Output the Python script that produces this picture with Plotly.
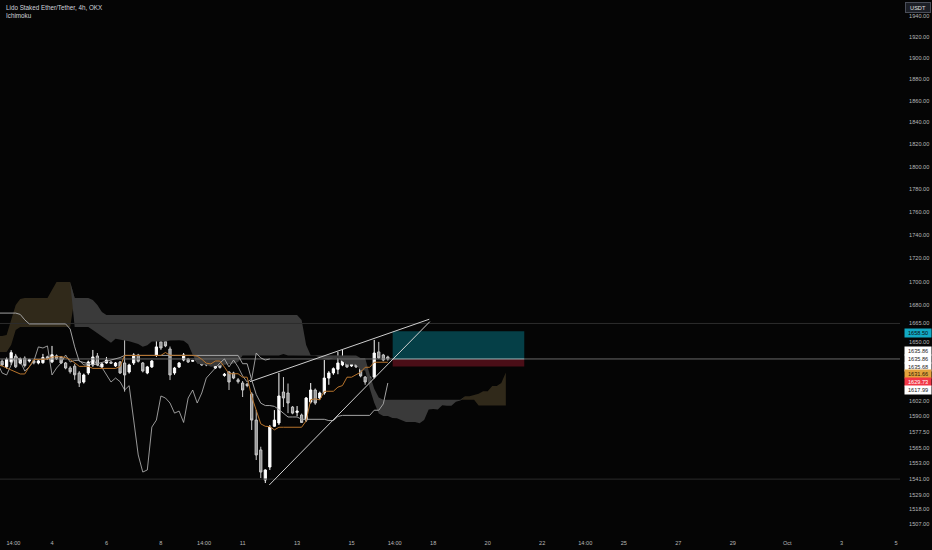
import pandas as pd
import numpy as np
import plotly.graph_objects as go

# ---------------- data ----------------
bar_start = "2023-09-02 00:00"   # first 4h bar

opens = [1629.0, 1634.0, 1629.5, 1633.5, 1638.0, 1632.5, 1636.5, 1634.2, 1634.3, 1632.6,
         1632.8, 1637.6, 1633.5, 1638.4, 1637.5, 1632.6, 1628.5, 1630.0, 1624.5, 1617.2,
         1624.5, 1631.0, 1638.3, 1629.4, 1632.6, 1633.4, 1630.2, 1633.4, 1632.6, 1625.3,
         1632.6, 1639.0, 1632.6, 1624.5, 1629.4, 1639.0, 1649.8, 1650.0, 1644.0, 1624.5,
         1629.4, 1635.0, 1635.9, 1634.0, 1634.2, 1635.0, 1634.2, 1635.5, 1628.5, 1631.0,
         1622.5, 1625.3, 1624.5, 1619.0, 1616.4, 1615.5, 1607.6, 1586.9, 1563.5, 1540.3,
         1550.3, 1582.0, 1584.6, 1609.2, 1608.4, 1597.2, 1593.0, 1590.9, 1586.9, 1601.2,
         1610.8, 1604.4, 1608.4, 1620.4, 1624.5, 1627.5, 1631.0, 1634.2, 1630.2, 1633.4,
         1628.5, 1621.2, 1621.2, 1621.2, 1641.6, 1639.1, 1637.5]
highs = [1635.0, 1635.5, 1637.0, 1643.0, 1640.0, 1637.0, 1638.0, 1636.0, 1635.0, 1635.2,
         1640.0, 1638.5, 1646.5, 1639.5, 1638.3, 1633.4, 1630.0, 1632.0, 1626.0, 1624.0,
         1634.5, 1643.2, 1640.7, 1632.6, 1637.5, 1634.0, 1633.4, 1634.2, 1668.0, 1632.0,
         1640.5, 1640.0, 1633.4, 1630.2, 1635.0, 1658.8, 1657.5, 1652.5, 1646.0, 1629.4,
         1633.4, 1640.7, 1636.7, 1635.2, 1635.2, 1635.9, 1635.0, 1637.0, 1631.8, 1632.0,
         1624.5, 1626.0, 1625.5, 1620.4, 1618.0, 1616.4, 1609.0, 1594.8, 1566.0, 1548.5,
         1583.0, 1594.8, 1624.5, 1621.2, 1616.0, 1598.0, 1598.0, 1592.0, 1605.2, 1616.4,
         1612.0, 1609.5, 1635.0, 1626.0, 1629.0, 1641.6, 1643.2, 1635.9, 1636.0, 1634.5,
         1629.4, 1622.0, 1622.0, 1651.4, 1649.8, 1640.0, 1638.5]
lows = [1628.0, 1630.0, 1628.0, 1631.0, 1628.5, 1631.5, 1629.0, 1633.0, 1631.5, 1631.5,
        1632.0, 1635.0, 1632.5, 1635.0, 1631.8, 1627.5, 1624.0, 1619.0, 1613.2, 1616.0,
        1623.0, 1629.5, 1630.0, 1628.5, 1632.0, 1631.8, 1629.4, 1623.7, 1609.5, 1624.0,
        1631.0, 1633.0, 1625.0, 1623.5, 1628.5, 1637.5, 1643.2, 1645.5, 1618.8, 1623.0,
        1628.5, 1634.0, 1632.6, 1633.5, 1633.8, 1630.2, 1630.0, 1635.0, 1627.7, 1628.0,
        1621.5, 1610.8, 1619.5, 1616.0, 1605.2, 1613.0, 1579.1, 1555.7, 1541.8, 1538.0,
        1548.0, 1581.5, 1583.0, 1597.2, 1592.4, 1591.5, 1590.0, 1584.6, 1585.5, 1600.0,
        1599.0, 1603.0, 1607.0, 1615.0, 1623.0, 1623.5, 1630.0, 1628.5, 1629.4, 1628.5,
        1621.0, 1615.0, 1617.0, 1620.0, 1636.0, 1634.0, 1634.5]
closes = [1634.0, 1631.0, 1635.5, 1641.0, 1629.5, 1636.0, 1630.5, 1635.2, 1632.7, 1634.3,
          1637.0, 1636.0, 1639.3, 1636.0, 1632.6, 1628.5, 1625.5, 1623.0, 1616.4, 1622.9,
          1633.4, 1637.5, 1631.0, 1631.8, 1635.0, 1632.4, 1632.6, 1624.5, 1622.9, 1631.0,
          1639.1, 1634.0, 1626.1, 1629.4, 1634.2, 1645.7, 1644.8, 1646.5, 1622.9, 1628.5,
          1632.6, 1639.1, 1633.4, 1634.6, 1634.8, 1631.0, 1631.0, 1636.2, 1631.0, 1629.0,
          1623.5, 1617.2, 1620.4, 1617.5, 1610.8, 1614.3, 1586.9, 1559.6, 1546.4, 1548.0,
          1581.4, 1586.9, 1606.0, 1604.4, 1600.4, 1592.4, 1594.0, 1585.0, 1604.4, 1610.8,
          1600.4, 1608.4, 1620.4, 1624.5, 1628.0, 1632.6, 1635.9, 1629.4, 1635.0, 1629.4,
          1622.1, 1617.2, 1619.6, 1640.7, 1636.7, 1635.0, 1635.86]

# Ichimoku values whose look-back starts before the visible bars
tenkan_early = [1631.0, 1630.2, 1628.5, 1626.9, 1625.3, 1623.7, 1623.7, 1629.4]
kijun_early = [1673.6, 1673.6, 1673.6, 1673.6, 1673.6, 1672.5, 1668.0, 1664.6, 1664.6, 1664.6,
               1664.6, 1664.6, 1664.6, 1664.6, 1664.6, 1664.6, 1660.4, 1645.7, 1634.0, 1633.2,
               1632.4, 1631.0, 1632.0, 1633.0, 1634.0, 1635.0, 1636.0, 1637.0]
span_a_early = [1654.7, 1654.7, 1655.5, 1667.9, 1680.4, 1685.4, 1686.2, 1686.2, 1686.2, 1686.2,
                1686.2, 1686.2, 1692.9, 1699.7, 1699.7, 1699.7, 1699.7, 1662.1, 1662.1, 1662.1,
                1662.1, 1659.6, 1657.1, 1653.9, 1651.4, 1649.0]
span_b_early = [1641.6, 1641.6, 1641.6, 1647.3, 1659.6, 1662.1, 1662.1, 1662.1, 1662.1, 1662.1,
                1662.1, 1662.1, 1662.1, 1662.1, 1662.1, 1662.1, 1662.1, 1686.2, 1686.2, 1686.2,
                1686.2, 1684.6, 1680.4, 1674.5, 1672.0, 1672.0, 1672.0, 1672.0, 1672.0, 1672.0,
                1672.0, 1672.0, 1672.0, 1672.0, 1672.0, 1672.0, 1672.0, 1672.0, 1672.0, 1672.0,
                1672.0, 1672.0, 1672.0, 1672.0, 1672.0, 1672.0, 1672.0, 1672.0, 1672.0, 1672.0,
                1672.0, 1672.0, 1672.0, 1672.0, 1672.0, 1672.0, 1672.0, 1672.0, 1672.0, 1672.0,
                1672.0, 1672.0, 1672.0, 1672.0, 1672.0, 1672.0, 1672.0, 1667.9, 1647.3, 1638.8,
                1638.8, 1638.8, 1638.8, 1638.8, 1638.8, 1638.8, 1638.8]

levels_dark = [1665.0, 1541.0]
last_price = 1635.86

trend_upper_t = ["2023-09-11 06:30", "2023-09-17 20:30"]
trend_upper_p = [1617.5, 1668.5]
trend_lower_t = ["2023-09-11 23:30", "2023-09-17 21:00"]
trend_lower_p = [1536.5, 1666.5]

pos_t = ["2023-09-16 12:15", "2023-09-21 08:15"]
pos_entry, pos_target, pos_stop = 1635.86, 1658.50, 1629.73

y_ticks = [1940, 1920, 1900, 1880, 1860, 1840, 1820, 1800, 1780, 1760, 1740, 1720, 1700,
           1680, 1665, 1650, 1602, 1590, 1577.5, 1565, 1553, 1541, 1529, 1518, 1507]
x_tick_dates = ["2023-09-02 14:00", "2023-09-04", "2023-09-06", "2023-09-08", "2023-09-09 14:00",
                "2023-09-11", "2023-09-13", "2023-09-15", "2023-09-16 14:00", "2023-09-18",
                "2023-09-20", "2023-09-22", "2023-09-23 14:00", "2023-09-25", "2023-09-27",
                "2023-09-29", "2023-10-01", "2023-10-03", "2023-10-05"]
x_tick_text = ["14:00", "4", "6", "8", "14:00", "11", "13", "15", "14:00", "18", "20", "22",
               "14:00", "25", "27", "29", "Oct", "3", "5"]

# right-axis price tags (text, background, text colour, stacked pixel row)
tags = [("1658.50", "#12a9c4", "#0b0b0b", 332.7),
        ("1635.86", "#ffffff", "#222222", 351.0),
        ("1635.86", "#ffffff", "#222222", 359.0),
        ("1635.68", "#ffffff", "#222222", 366.7),
        ("1631.66", "#e3a23c", "#2a1c05", 374.4),
        ("1629.73", "#f23645", "#ffffff", 382.1),
        ("1617.99", "#ffffff", "#222222", 389.8)]

# ---------------- derived ichimoku ----------------
n = len(closes)
times = pd.date_range(bar_start, periods=n + 26, freq="4h")
H = pd.Series(highs)
L = pd.Series(lows)
tenkan = ((H.rolling(9).max() + L.rolling(9).min()) / 2).tolist()
tenkan[:len(tenkan_early)] = tenkan_early
kijun = ((H.rolling(26).max() + L.rolling(26).min()) / 2).tolist()
kijun[:len(kijun_early)] = kijun_early
span_b_calc = ((H.rolling(52).max() + L.rolling(52).min()) / 2).tolist()
span_a = np.array(span_a_early + [(t + k) / 2 for t, k in zip(tenkan, kijun)])
span_b = np.array(span_b_early + span_b_calc[len(span_b_early) - 26:])
cloud_top = np.maximum(span_a, span_b)

x_range = ["2023-09-02 02:10", "2023-10-05 03:24"]
BG = "#050505"
FONT = "Liberation Sans"

fig = go.Figure()

# cloud: olive where A above B, grey where B above A
fig.add_trace(go.Scatter(x=times, y=span_b, mode="lines", line=dict(width=0), hoverinfo="skip"))
fig.add_trace(go.Scatter(x=times, y=cloud_top, mode="lines", line=dict(width=0),
                         fill="tonexty", fillcolor="#30291a", hoverinfo="skip"))
fig.add_trace(go.Scatter(x=times, y=span_a, mode="lines", line=dict(width=0), hoverinfo="skip"))
fig.add_trace(go.Scatter(x=times, y=cloud_top, mode="lines", line=dict(width=0),
                         fill="tonexty", fillcolor="#3a3a3a", hoverinfo="skip"))

# horizontal levels
for lv in levels_dark:
    fig.add_trace(go.Scatter(x=x_range, y=[lv, lv], mode="lines",
                             line=dict(color="#2c2c2c", width=1), hoverinfo="skip"))
fig.add_trace(go.Scatter(x=x_range, y=[last_price, last_price], mode="lines",
                         line=dict(color="#6a6a6a", width=1), hoverinfo="skip"))

# long position box
fig.add_trace(go.Scatter(x=[pos_t[0], pos_t[1], pos_t[1], pos_t[0], pos_t[0]],
                         y=[pos_entry, pos_entry, pos_target, pos_target, pos_entry],
                         mode="lines", line=dict(width=0), fill="toself",
                         fillcolor="#053f47", hoverinfo="skip"))
fig.add_trace(go.Scatter(x=[pos_t[0], pos_t[1], pos_t[1], pos_t[0], pos_t[0]],
                         y=[pos_stop, pos_stop, pos_entry, pos_entry, pos_stop],
                         mode="lines", line=dict(width=0), fill="toself",
                         fillcolor="#4a0e17", hoverinfo="skip"))
fig.add_trace(go.Scatter(x=pos_t, y=[pos_entry, pos_entry], mode="lines",
                         line=dict(color="#9fb7b9", width=1), hoverinfo="skip"))

# lagging span, base line, conversion line
fig.add_trace(go.Scatter(x=times[:n - 26], y=closes[26:], mode="lines",
                         line=dict(color="#bdbdbd", width=0.8), hoverinfo="skip"))
fig.add_trace(go.Scatter(x=times[:n], y=kijun, mode="lines",
                         line=dict(color="#a3a3a3", width=1), hoverinfo="skip"))
fig.add_trace(go.Scatter(x=times[:n], y=tenkan, mode="lines",
                         line=dict(color="#b8742c", width=1), hoverinfo="skip"))

# candles
fig.add_trace(go.Candlestick(x=times[:n], open=opens, high=highs, low=lows, close=closes,
                             increasing=dict(line=dict(color="#ffffff", width=1), fillcolor="#ffffff"),
                             decreasing=dict(line=dict(color="#c9c9c9", width=1), fillcolor="#8e8e8e"),
                             whiskerwidth=0, hoverinfo="skip"))

# trend lines
fig.add_trace(go.Scatter(x=trend_upper_t, y=trend_upper_p, mode="lines",
                         line=dict(color="#cfcfcf", width=1), hoverinfo="skip"))
fig.add_trace(go.Scatter(x=trend_lower_t, y=trend_lower_p, mode="lines",
                         line=dict(color="#cfcfcf", width=1), hoverinfo="skip"))

annotations = [
    dict(text="Lido Staked Ether/Tether, 4h, OKX", xref="paper", yref="paper",
         x=4 / 900, y=1 - 7.3 / 532, xanchor="left", yanchor="middle", showarrow=False,
         font=dict(family=FONT, size=6.3, color="#d1d4dc")),
    dict(text="Ichimoku", xref="paper", yref="paper",
         x=4 / 900, y=1 - 15.5 / 532, xanchor="left", yanchor="middle", showarrow=False,
         font=dict(family=FONT, size=6.3, color="#d1d4dc")),
    dict(text="USDT", xref="paper", yref="paper", x=1, xshift=5, y=1 - 7.6 / 532,
         xanchor="left", yanchor="middle", showarrow=False, width=22, height=7,
         bgcolor="#1c1f26", bordercolor="#4a4e59", borderwidth=1, borderpad=1,
         font=dict(family=FONT, size=5.6, color="#e0e0e0")),
]
for txt, bg, fg, ypx in tags:
    annotations.append(dict(text=txt, xref="paper", yref="paper", x=1, xshift=3.5,
                            y=1 - ypx / 532, xanchor="left", yanchor="middle", showarrow=False,
                            width=25, height=6.5, bgcolor=bg, borderpad=0.6,
                            font=dict(family=FONT, size=5.6, color=fg)))

fig.update_layout(
    width=932, height=550,
    margin=dict(l=0, r=32, t=0, b=18),
    paper_bgcolor=BG, plot_bgcolor=BG,
    showlegend=False,
    annotations=annotations,
    xaxis=dict(type="date", range=x_range, rangeslider=dict(visible=False),
               tickvals=x_tick_dates, ticktext=x_tick_text,
               showgrid=False, zeroline=False, showline=False,
               ticks="outside", ticklen=5, tickcolor=BG,
               tickfont=dict(family=FONT, size=5.6, color="#b8b8b8")),
    yaxis=dict(type="log", range=[3.176378, 3.291266], side="right",
               tickvals=y_ticks, ticktext=[f"{v:.2f}" for v in y_ticks],
               showgrid=False, zeroline=False, showline=False,
               ticks="outside", ticklen=7, tickcolor=BG,
               tickfont=dict(family=FONT, size=5.6, color="#b8b8b8")),
)

fig.write_html("out.html",
               config={"displayModeBar": False},
               post_script="document.body.style.margin='0px';"
                           "document.body.style.background='" + BG + "';")
